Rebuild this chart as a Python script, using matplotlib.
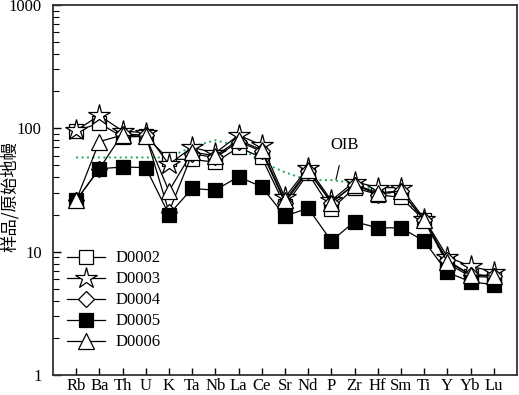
import matplotlib
matplotlib.use("Agg")
import matplotlib.pyplot as plt
from matplotlib.ticker import FixedLocator, LogLocator, NullFormatter

elements = ["Rb", "Ba", "Th", "U", "K", "Ta", "Nb", "La", "Ce", "Sr", "Nd", "P",
            "Zr", "Hf", "Sm", "Ti", "Y", "Yb", "Lu"]

d0002 = [95, 110, 85, 86, 56, 56, 53, 70, 58, 23.5, 43, 22, 33, 29, 27.5, 18, 8.0, 6.3, 6.2]
d0003 = [96, 127, 95, 92, 51, 70, 63, 88, 73, 27.5, 48, 26, 37, 33, 33, 18.5, 9.1, 7.6, 6.9]
d0004 = [26, 47, 90, 88, 21, 62, 58, 78, 65, 25, 45, 25, 35, 29, 31, 18, 8.5, 6.5, 6.4]
d0005 = [26, 47, 48.5, 48, 20, 32.5, 31.5, 40.5, 33.5, 19.4, 22.5, 12.2, 17.5, 15.6, 15.6, 12.2, 6.8, 5.7, 5.4]
d0006 = [26, 78, 88, 86, 31, 64, 60, 80, 67, 26, 46, 25, 35, 30, 31, 18, 8.3, 6.5, 6.3]
oib = [58, 58, 58, 58, 58, 71, 80, 72, 53, 44, 38, 38, 36, 31, 29, 18, 8.0, 6.6, 6.3]

series = [("D0002", d0002, "s", "white", 10),
          ("D0003", d0003, "*", "white", 16),
          ("D0004", d0004, "D", "white", 8.5),
          ("D0005", d0005, "s", "black", 10),
          ("D0006", d0006, "^", "white", 11)]

serif = "Liberation Serif"
fs = 12

fig = plt.figure(figsize=(5.19, 3.95), dpi=100)
ax = fig.add_axes([0.102, 0.0506, 0.894, 0.937])
x = list(range(len(elements)))

ax.plot(x, oib, linestyle=(0, (1, 1.8)), color="#22a85a", lw=1.4, zorder=1)

for name, vals, mk, fc, ms in series:
    ax.plot(x, vals, color="black", lw=0.9, marker=mk, markersize=ms,
            markerfacecolor=fc, markeredgecolor="black", markeredgewidth=0.9,
            label=name, zorder=3)

ax.set_yscale("log")
ax.set_ylim(1, 1000)
ax.set_xlim(-1, 19)
ax.set_xticks(x)
ax.set_xticklabels(elements, family=serif, fontsize=fs)
ax.yaxis.set_major_locator(FixedLocator([1, 10, 100, 1000]))
ax.set_yticklabels(["1", "10", "100", "1000"], family=serif, fontsize=fs)
ax.yaxis.set_minor_locator(LogLocator(base=10, subs=range(2, 10)))
ax.yaxis.set_minor_formatter(NullFormatter())
ax.tick_params(axis="y", which="major", direction="in", length=6, width=1, pad=8)
ax.tick_params(axis="x", which="major", direction="in", length=5, width=1, pad=2)
ax.tick_params(axis="y", which="minor", direction="in", length=4, width=0.8)
ax.tick_params(top=False, right=False)
for s in ax.spines.values():
    s.set_linewidth(1.3)
    s.set_color("#333333")

fig.text(10 / 519, 1 - 196 / 395, "样品/原始地幔", family=["Noto Sans CJK SC", "DejaVu Sans"],
         fontsize=12.5, rotation=90, ha="center", va="center")

ax.annotate("OIB", xy=(11.2, 38.4), xytext=(11.55, 73),
            family=serif, fontsize=fs, ha="center", va="center",
            arrowprops=dict(arrowstyle="-", color="black", lw=0.8, shrinkA=7, shrinkB=0))

leg = ax.legend(loc="lower left", bbox_to_anchor=(0.005, 0.035), frameon=False,
                prop={"family": serif, "size": fs},
                handlelength=2.3, labelspacing=0.3, handletextpad=0.6, borderaxespad=0.3)

fig.savefig("out.png", dpi=100)
